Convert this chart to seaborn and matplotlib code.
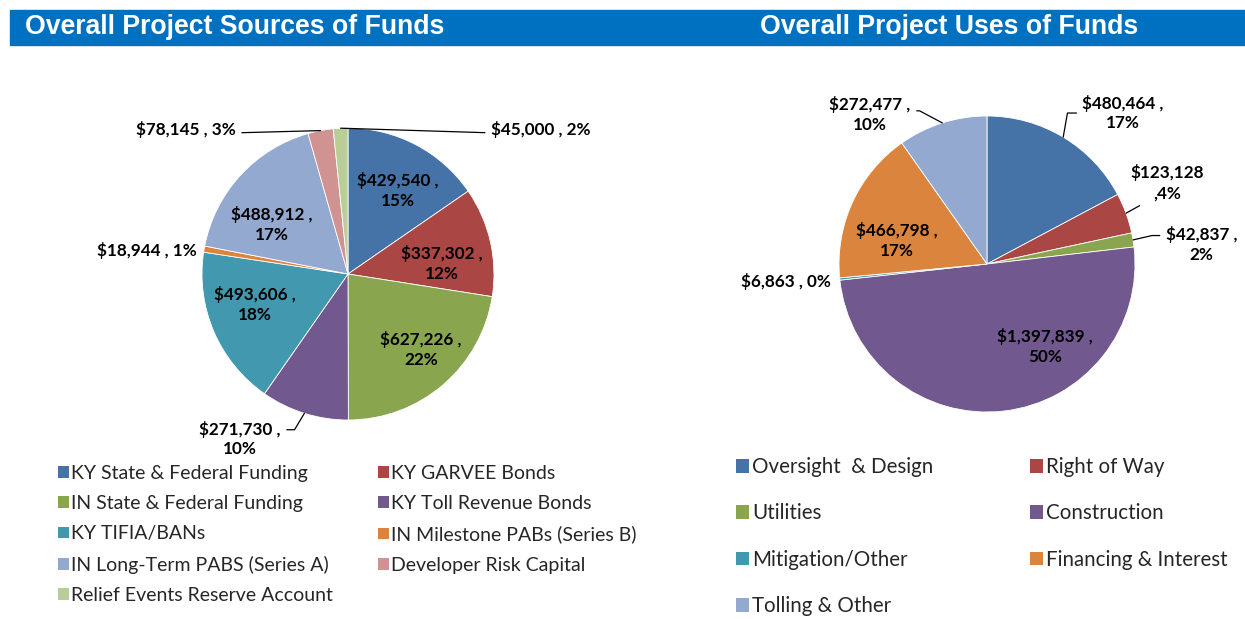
import matplotlib.pyplot as plt
import seaborn as sns
from matplotlib.patches import Rectangle
import numpy as np

sns.set_theme(style="white")
plt.rcParams['font.family'] = ['Lato', 'DejaVu Sans']

W, H = 1245, 619

# --- data (thousands of $) ---
source_names = ["KY State & Federal Funding", "KY GARVEE Bonds", "IN State & Federal Funding",
                "KY Toll Revenue Bonds", "KY TIFIA/BANs", "IN Milestone PABs (Series B)",
                "IN Long-Term PABS (Series A)", "Developer Risk Capital",
                "Relief Events Reserve Account"]
source_values = [429540, 337302, 627226, 271730, 493606, 18944, 488912, 78145, 45000]
source_pcts = [15, 12, 22, 10, 18, 1, 17, 3, 2]

use_names = ["Oversight  & Design", "Right of Way", "Utilities", "Construction",
             "Mitigation/Other", "Financing & Interest", "Tolling & Other"]
use_values = [480464, 123128, 42837, 1397839, 6863, 466798, 272477]
use_pcts = [17, 4, 2, 50, 0, 17, 10]

excel_colors = sns.color_palette(["#4572A7", "#AA4643", "#89A54E", "#71588F", "#4198AF",
                                  "#DB843D", "#93A9CF", "#D19392", "#B9CD96"])

# --- label layout (pie radius units) ---
source_fmt = ["{v} ,\n{p}", "{v} ,\n{p}", "{v} ,\n{p}", "{v} ,\n{p}", "{v} ,\n{p}",
              "{v} , {p}", "{v} ,\n{p}", "{v} , {p}", "{v} , {p}"]
source_xy = [(0.34, 0.575), (0.64, 0.075), (0.50, -0.52), (-0.74, -1.13), (-0.64, -0.21),
             (-1.38, 0.16), (-0.52, 0.34), (-1.11, 0.99), (1.32, 0.99)]
# leader: (angle of the leg leaving the wedge, attach point on text box) or None
source_leader = [None, None, None, (-121, (1.0, 0.75)), None, None, None,
                 (None, (1.0, 0.3)), (None, (0.0, 0.3))]

use_fmt = ["{v} ,\n{p}", "{v}\n,{p}", "{v} ,\n{p}", "{v} ,\n{p}", "{v} , {p}",
           "{v} ,\n{p}", "{v} ,\n{p}"]
use_xy = [(0.92, 1.02), (1.22, 0.55), (1.45, 0.13), (0.39, -0.56), (-1.36, -0.12),
          (-0.61, 0.16), (-0.79, 1.01)]
use_leader = [(80, (0.0, 0.5)), (29, (0.3, 0.25)), (13, (0.0, 0.75)), None, None, None,
              (152, (1.0, 0.6))]

fig = plt.figure(figsize=(W / 100, H / 100), dpi=100)

# title bar
fig.patches.append(Rectangle((10 / W, 1 - 45 / H), 1 - 10 / W, 35 / H,
                             transform=fig.transFigure, color="#0070C0", zorder=0))
for x, t in [(25, "Overall Project Sources of Funds"), (760, "Overall Project Uses of Funds")]:
    fig.text(x / W, 1 - 27.5 / H, t, color="white", fontsize=19.2, fontweight="bold",
             family="Liberation Sans", va="center", ha="left")


def pie_axes(cx, cy, r, ext=1.7):
    ax = fig.add_axes([(cx - ext * r) / W, 1 - (cy + ext * r) / H,
                       2 * ext * r / W, 2 * ext * r / H])
    return ax, ext


def draw_pie(ax, ext, values, pcts, fmts, xys, leaders):
    wedges, _ = ax.pie(values, colors=excel_colors[:len(values)], startangle=90,
                       counterclock=False, radius=1,
                       wedgeprops=dict(edgecolor="white", linewidth=0.6))
    ax.set_xlim(-ext, ext)
    ax.set_ylim(-ext, ext)
    ax.axis("off")
    for w, v, p, f, (tx, ty), lead in zip(wedges, values, pcts, fmts, xys, leaders):
        txt = f.format(v=f"${v:,}", p=f"{p}%")
        mid = np.deg2rad((w.theta1 + w.theta2) / 2)
        edge = (np.cos(mid), np.sin(mid))
        kw = dict(ha="center", va="center", fontsize=12.3, fontweight="bold",
                  color="black", linespacing=1.3, annotation_clip=False)
        if lead is None:
            ax.annotate(txt, xy=(tx, ty), **kw)
        else:
            angB, relpos = lead
            if angB is None:
                cs = "arc3,rad=0"
            else:
                cs = f"angle,angleA=0,angleB={angB},rad=0"
            ax.annotate(txt, xy=edge, xytext=(tx, ty), **kw,
                        arrowprops=dict(arrowstyle="-", color="black", lw=0.9,
                                        connectionstyle=cs, relpos=relpos,
                                        shrinkA=2, shrinkB=0))
    return wedges


def add_legend(handles, labels, x, y, fs, spacing, hl):
    leg = fig.legend(handles, labels, loc="upper left",
                     bbox_to_anchor=(x / W, 1 - y / H), frameon=False, borderpad=0,
                     borderaxespad=0, handlelength=hl, handleheight=hl,
                     handletextpad=0.12, labelspacing=spacing, fontsize=fs)
    for h in leg.legend_handles:
        h.set_edgecolor("none")
    return leg


ax1, e1 = pie_axes(348, 274, 146)
w1 = draw_pie(ax1, e1, source_values, source_pcts, source_fmt, source_xy, source_leader)
ax2, e2 = pie_axes(987, 264, 148)
w2 = draw_pie(ax2, e2, use_values, use_pcts, use_fmt, use_xy, use_leader)

# legends: Excel fills rows left-to-right, so split into two columns
add_legend(w1[0::2], source_names[0::2], 58, 465, 14, 0.68, 0.55)
add_legend(w1[1::2], source_names[1::2], 378, 465, 14, 0.68, 0.55)
add_legend(w2[0::2], use_names[0::2], 736, 457, 14.8, 1.28, 0.65)
add_legend(w2[1::2], use_names[1::2], 1030, 457, 14.8, 1.28, 0.65)

fig.savefig("out.png", dpi=100)
